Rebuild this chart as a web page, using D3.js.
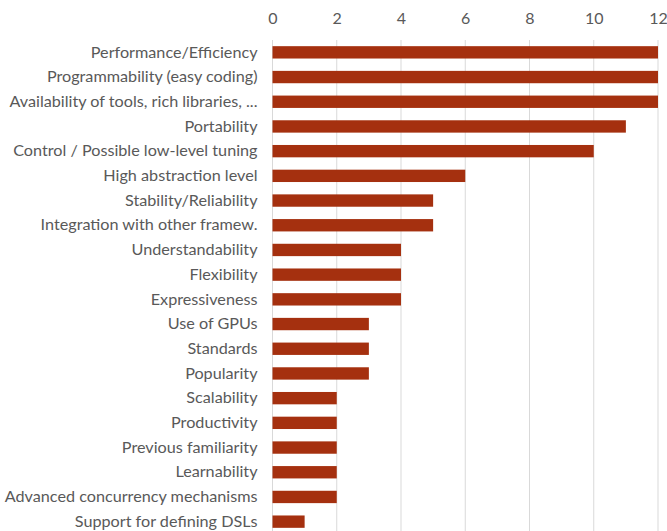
<!DOCTYPE html>
<html>
<head>
<meta charset="utf-8">
<script src="https://cdn.jsdelivr.net/npm/d3@7"></script>
<style>
  html, body { margin: 0; padding: 0; background: #fff; }
  svg { display: block; }
  .tick text { font-family: Lato, "Open Sans", sans-serif; fill: #595959; }
</style>
</head>
<body>
<svg id="chart" width="667" height="531"></svg>
<script>
const categories = [
  "Performance/Efficiency",
  "Programmability (easy coding)",
  "Availability of tools, rich libraries, ...",
  "Portability",
  "Control / Possible low-level tuning",
  "High abstraction level",
  "Stability/Reliability",
  "Integration with other framew.",
  "Understandability",
  "Flexibility",
  "Expressiveness",
  "Use of GPUs",
  "Standards",
  "Popularity",
  "Scalability",
  "Productivity",
  "Previous familiarity",
  "Learnability",
  "Advanced concurrency mechanisms",
  "Support for defining DSLs"
];
const values = [12, 12, 12, 11, 10, 6, 5, 5, 4, 4, 4, 3, 3, 3, 2, 2, 2, 2, 2, 1];
const xTicks = [0, 2, 4, 6, 8, 10, 12];

const svg = d3.select("#chart");
const plot = { left: 272.5, right: 658, top: 40, bottom: 534 };

const x = d3.scaleLinear().domain([0, 12]).range([plot.left, plot.right]);
const y = d3.scaleBand().domain(categories).range([plot.top, plot.bottom])
  .paddingInner(0.5).paddingOuter(0.25);

// vertical gridlines
svg.append("g").selectAll("line").data(xTicks).join("line")
  .attr("x1", d => x(d)).attr("x2", d => x(d))
  .attr("y1", plot.top).attr("y2", 531)
  .attr("stroke", "#d9d9d9").attr("stroke-width", 1);

// top axis labels
const xAxis = svg.append("g").attr("transform", `translate(0,${plot.top})`)
  .call(d3.axisTop(x).tickValues(xTicks).tickSize(0).tickPadding(16));
xAxis.select(".domain").remove();
xAxis.selectAll("text").attr("font-size", 16);

// bars
svg.append("g").selectAll("rect").data(values).join("rect")
  .attr("x", x(0))
  .attr("y", (d, i) => y(categories[i]))
  .attr("width", d => x(d) - x(0))
  .attr("height", y.bandwidth())
  .attr("fill", "#a5300f");

// category labels
const yAxis = svg.append("g").attr("transform", `translate(${x(0)},0)`)
  .call(d3.axisLeft(y).tickSize(0).tickPadding(15));
yAxis.select(".domain").remove();
yAxis.selectAll("text").attr("font-size", 16.2);
</script>
</body>
</html>
